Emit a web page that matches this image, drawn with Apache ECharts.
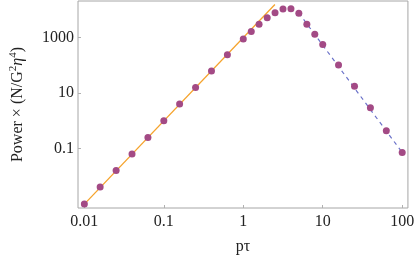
<!DOCTYPE html>
<html>
<head>
<meta charset="utf-8">
<script src="https://cdn.jsdelivr.net/npm/echarts@6/dist/echarts.min.js"></script>
<style>
  html, body { margin: 0; padding: 0; background: #fff; }
  #chart { width: 417px; height: 260px; }
</style>
</head>
<body>
<div id="chart"></div>
<script>
// measured points (p tau, power)
const ptau = [0.01, 0.0158, 0.0251, 0.0398, 0.0631, 0.1, 0.158, 0.251, 0.398, 0.631,
  1, 1.26, 1.58, 2.0, 2.51, 3.16, 3.98, 5.0, 6.31, 7.94, 10, 15.8, 25.1, 39.8, 63.1, 100];
const power = [0.00102, 0.0041, 0.0162, 0.0637, 0.251, 1.01, 4.02, 15.8, 62.5, 240,
  900, 1680, 3020, 5200, 7940, 10700, 10960, 7530, 3020, 1320, 568, 104, 17.6, 2.98, 0.443, 0.0724];

// low-frequency asymptote (solid orange) and high-frequency asymptote (dashed blue)
const lowFitX = [0.01, 2.5];
const lowFitY = [0.001, 15600];
const highFitX = [5, 100];
const highFitY = [7760, 0.0724];

// tick labels
const xTicks = [0.01, 0.1, 1, 10, 100];
const xTickLabels = ['0.01', '0.1', '1', '10', '100'];
const yTicks = [0.1, 10, 1000];
const yTickLabels = ['0.1', '10', '1000'];

const lg = Math.log10;
const pairs = (xs, ys) => xs.map((x, i) => [lg(x), lg(ys[i])]);

function labelFor(ticks, labels) {
  return (v) => {
    const i = ticks.findIndex(t => Math.abs(lg(t) - v) < 1e-6);
    return i >= 0 ? labels[i] : '';
  };
}

const font = 'Liberation Serif, Times New Roman, serif';

const chart = echarts.init(document.getElementById('chart'), null, { renderer: 'canvas' });

chart.setOption({
  animation: false,
  backgroundColor: '#fff',
  grid: { left: 66, right: 6, top: 1, bottom: 46, show: true, borderColor: '#a6a6a6', borderWidth: 1 },
  xAxis: {
    type: 'value',
    min: -2.08,
    max: 2.072,
    name: 'p\u03c4',
    nameLocation: 'middle',
    nameGap: 31,
    nameTextStyle: { fontFamily: font, fontSize: 16, color: '#222' },
    axisLine: { show: false, onZero: false },
    splitLine: { show: false },
    axisTick: { show: true, inside: true, length: 3, lineStyle: { color: '#b0b0b0' }, customValues: xTicks.map(lg) },
    axisLabel: {
      fontFamily: font, fontSize: 16, color: '#222', margin: 6,
      customValues: xTicks.map(lg),
      formatter: labelFor(xTicks, xTickLabels)
    }
  },
  yAxis: {
    type: 'value',
    min: -3.14,
    max: 4.32,
    name: '{n|Power \u00d7 (N/G}{s|2}{i|\u03b7}{s|4}{n|)}',
    nameLocation: 'middle',
    nameGap: 50,
    nameRotate: 90,
    nameTextStyle: {
      color: '#222',
      padding: [0, 0, 0, 0],
      rich: {
        n: { fontFamily: font, fontSize: 16, color: '#222' },
        i: { fontFamily: font, fontSize: 16, fontStyle: 'italic', color: '#222' },
        s: { fontFamily: font, fontSize: 11, color: '#222', padding: [0, 0, 9, 0] }
      }
    },
    axisLine: { show: false, onZero: false },
    splitLine: { show: false },
    axisTick: { show: true, inside: true, length: 3, lineStyle: { color: '#b0b0b0' }, customValues: yTicks.map(lg) },
    axisLabel: {
      fontFamily: font, fontSize: 16, color: '#222', margin: 4,
      customValues: yTicks.map(lg),
      formatter: labelFor(yTicks, yTickLabels)
    }
  },
  series: [
    {
      type: 'line',
      data: pairs(lowFitX, lowFitY),
      showSymbol: false,
      lineStyle: { color: '#f5a32c', width: 1.3 },
      z: 2
    },
    {
      type: 'line',
      data: pairs(highFitX, highFitY),
      showSymbol: false,
      lineStyle: { color: '#6b72c9', width: 1.2, type: [4, 4] },
      z: 2
    },
    {
      type: 'scatter',
      data: pairs(ptau, power),
      symbolSize: 7,
      itemStyle: { color: '#a34a85', opacity: 1 },
      z: 3
    }
  ]
});
</script>
</body>
</html>
